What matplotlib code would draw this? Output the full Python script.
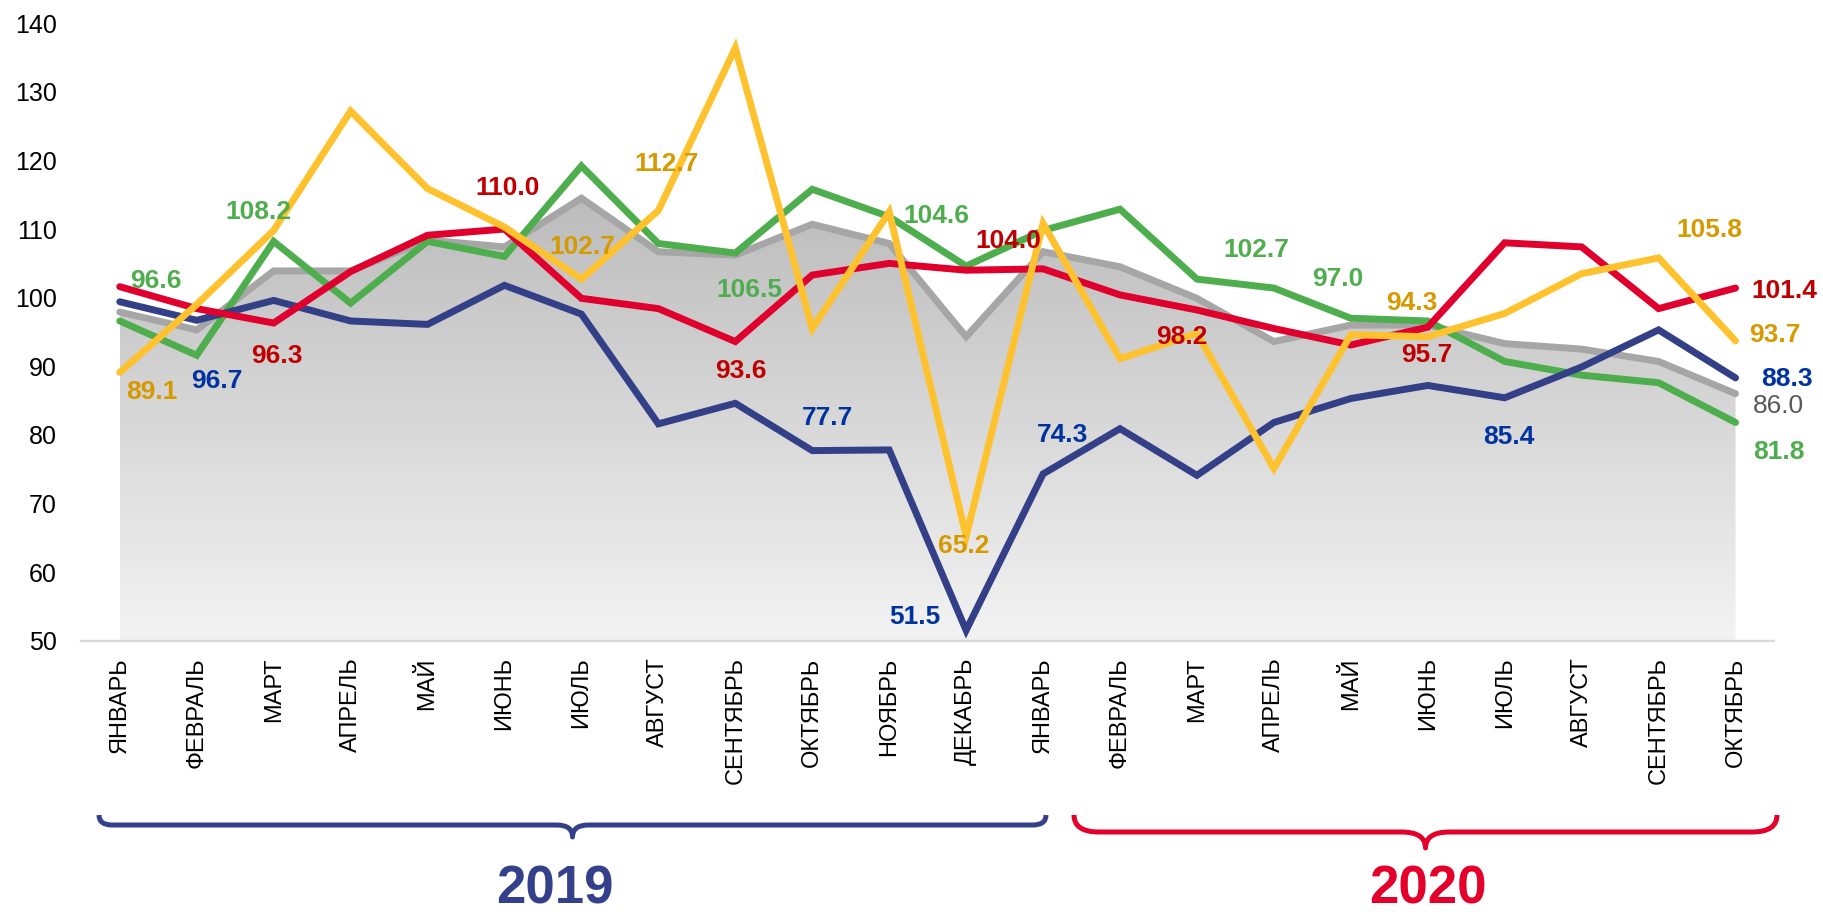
import numpy as np
import matplotlib
matplotlib.use('Agg')
import matplotlib.pyplot as plt
from matplotlib.path import Path
from matplotlib.patches import PathPatch
from matplotlib.colors import LinearSegmentedColormap

plt.rcParams['font.family'] = ['Liberation Sans', 'DejaVu Sans']

# ---------------- data ----------------
months = ['ЯНВАРЬ', 'ФЕВРАЛЬ', 'МАРТ', 'АПРЕЛЬ', 'МАЙ', 'ИЮНЬ', 'ИЮЛЬ', 'АВГУСТ',
          'СЕНТЯБРЬ', 'ОКТЯБРЬ', 'НОЯБРЬ', 'ДЕКАБРЬ',
          'ЯНВАРЬ', 'ФЕВРАЛЬ', 'МАРТ', 'АПРЕЛЬ', 'МАЙ', 'ИЮНЬ', 'ИЮЛЬ', 'АВГУСТ',
          'СЕНТЯБРЬ', 'ОКТЯБРЬ']
years = ['2019', '2020']
yticks = [50, 60, 70, 80, 90, 100, 110, 120, 130, 140]

gray_vals = [97.9, 95.3, 103.9, 103.9, 108.4, 107.4, 114.5, 106.7, 106.2, 110.7, 107.9,
             94.3, 106.7, 104.5, 99.9, 93.6, 96.0, 96.0, 93.3, 92.5, 90.7, 86.0]
green_vals = [96.6, 91.6, 108.2, 99.2, 108.2, 106.0, 119.2, 107.9, 106.5, 115.8, 111.8,
              104.6, 109.8, 112.9, 102.7, 101.4, 97.0, 96.6, 90.7, 88.7, 87.6, 81.8]
yellow_vals = [89.1, 99.0, 109.8, 127.2, 115.9, 110.3, 102.7, 112.7, 136.4, 95.5, 112.5,
               65.2, 110.8, 91.1, 94.8, 75.1, 94.6, 94.3, 97.7, 103.5, 105.8, 93.7]
navy_vals = [99.4, 96.7, 99.6, 96.6, 96.1, 101.8, 97.6, 81.6, 84.6, 77.7, 77.8,
             51.5, 74.3, 80.9, 74.1, 81.8, 85.3, 87.2, 85.4, 89.9, 95.3, 88.3]
red_vals = [101.6, 98.4, 96.3, 103.8, 109.1, 110.0, 99.9, 98.4, 93.6, 103.3, 105.0,
            104.0, 104.2, 100.4, 98.2, 95.5, 93.1, 95.7, 108.0, 107.4, 98.4, 101.4]

# ---------------- styles ----------------
W, H = 1823, 916
series = {
    'gray':   (gray_vals,   '#A6A6A6', '#595959', 'normal'),
    'green':  (green_vals,  '#4EAE4E', '#4EAE4E', 'bold'),
    'navy':   (navy_vals,   '#333F87', '#0033A0', 'bold'),
    'red':    (red_vals,    '#E0002E', '#C00000', 'bold'),
    'yellow': (yellow_vals, '#FFC22F', '#D69A00', 'bold'),
}
zorders = {'gray': 3, 'green': 4, 'navy': 5, 'red': 6, 'yellow': 7}

# label placement: (series, index, dx px, dy px downward) -- centre offsets
label_spec = [
    ('green', 0, 36, -42), ('yellow', 0, 32, 17), ('navy', 1, 20, 58),
    ('green', 2, -15, -32), ('red', 2, 3, 30), ('red', 5, 3, -44),
    ('yellow', 6, 1, -35), ('yellow', 7, 8, -49), ('green', 8, 14, 34),
    ('red', 8, 6, 27), ('navy', 9, 15, -35), ('green', 11, -30, -53),
    ('red', 11, 42, -32), ('yellow', 11, -2, 7), ('navy', 11, -51, -16),
    ('navy', 12, 20, -41), ('red', 14, -15, 24), ('green', 14, 59, -32),
    ('green', 16, -13, -42), ('yellow', 17, -16, -36), ('red', 17, -1, 25),
    ('navy', 18, 4, 37), ('yellow', 20, 51, -30), ('red', 21, 49, 0),
    ('yellow', 21, 39, -8), ('navy', 21, 51, -1), ('gray', 21, 43, 10),
    ('green', 21, 43, 27),
]

fig = plt.figure(figsize=(W / 100, H / 100), dpi=100)
ax = fig.add_axes([81.3 / W, 1 - 640.6 / H, (1774 - 81.3) / W, (640.6 - 23.3) / H])

x = np.arange(len(months))

# gradient fill under gray series
cmap = LinearSegmentedColormap.from_list('g', ['#F3F3F3', '#BBBBBB'])
poly = ax.fill_between(x, gray_vals, 50, facecolor='none', edgecolor='none', zorder=1)
grad = np.linspace(0, 1, 256).reshape(-1, 1)
im = ax.imshow(grad, extent=[x[0], x[-1], 50, 116], origin='lower', cmap=cmap,
               aspect='auto', zorder=1, interpolation='bilinear')
im.set_clip_path(poly.get_paths()[0], transform=ax.transData)

for name, (vals, col, lcol, wt) in series.items():
    ax.plot(x, vals, color=col, lw=5.0, solid_capstyle='round',
            solid_joinstyle='miter', zorder=zorders[name])

for name, idx, dx, dy in label_spec:
    vals, col, lcol, wt = series[name]
    ax.annotate(f'{vals[idx]:.1f}', (x[idx], vals[idx]), xytext=(dx, -dy - 9.5),
                textcoords='offset pixels', ha='center', va='baseline',
                fontsize=19, fontweight=wt, color=lcol, zorder=10)

ax.set_xlim(-0.5, 21.5)
ax.set_ylim(50, 140)
ax.set_yticks(yticks)
ax.set_yticklabels([str(v) for v in yticks])
ax.set_xticks(x)
ax.set_xticklabels(months, rotation=90)
ax.tick_params(axis='y', length=0, pad=17.5, labelsize=18, labelcolor='#000000')
ax.tick_params(axis='x', length=0, pad=12, labelsize=17, labelcolor='#000000')
for s in ['left', 'right', 'top']:
    ax.spines[s].set_visible(False)
ax.spines['bottom'].set_color('#D9D9D9')
ax.spines['bottom'].set_linewidth(1.7)
ax.spines['bottom'].set_zorder(2)


def px(xp, yp):
    return (xp / W, 1 - yp / H)


def brace(x0, x1, ytop, yline, ytip, r_end, r_mid, color):
    xc = (x0 + x1) / 2
    pts = [(x0, ytop), (x0, yline), (x0 + r_end, yline), (xc - r_mid, yline),
           (xc, yline), (xc, ytip), (xc, yline), (xc + r_mid, yline),
           (x1 - r_end, yline), (x1, yline), (x1, ytop)]
    codes = [Path.MOVETO, Path.CURVE3, Path.CURVE3, Path.LINETO,
             Path.CURVE3, Path.CURVE3, Path.CURVE3, Path.CURVE3,
             Path.LINETO, Path.CURVE3, Path.CURVE3]
    path = Path([px(a, b) for a, b in pts], codes)
    fig.patches.append(PathPatch(path, fill=False, edgecolor=color, lw=3.6,
                                 transform=fig.transFigure, capstyle='butt',
                                 joinstyle='round'))


brace(99, 1046, 815, 825, 837, 13, 16, '#34418A')
brace(1074, 1777, 815, 832, 848, 25, 24, '#E4002B')

fig.text(*px(554.5, 915), years[0], ha='center', va='bottom', fontsize=38,
         fontweight='bold', color='#34418A')
fig.text(*px(1428, 915), years[1], ha='center', va='bottom', fontsize=38,
         fontweight='bold', color='#E4002B')

fig.savefig('out.png', dpi=100)
